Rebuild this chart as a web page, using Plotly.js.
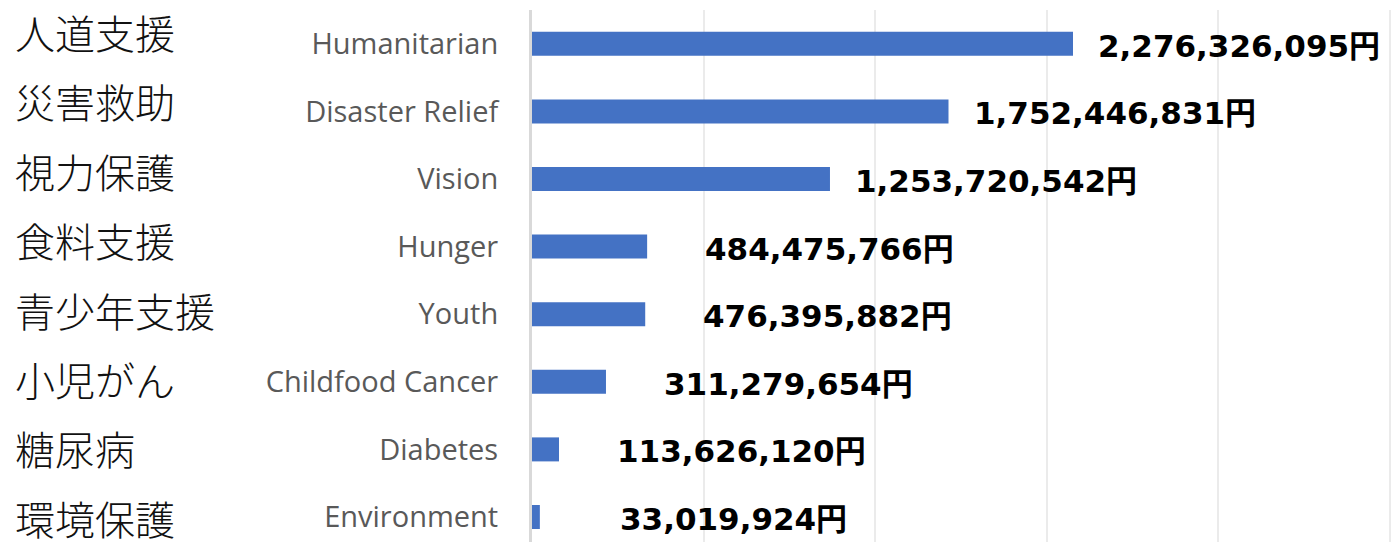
<!DOCTYPE html>
<html><head><meta charset="utf-8">
<script src="https://cdn.plot.ly/plotly-3.0.1.min.js"></script>
<style>html,body{margin:0;padding:0;background:#fff;}#chart{width:1392px;height:542px;}</style>
</head><body><div id="chart"></div>
<script>
const categories = ["Humanitarian","Disaster Relief","Vision","Hunger","Youth","Childfood Cancer","Diabetes","Environment"];
const jpLabels = ["人道支援","災害救助","視力保護","食料支援","青少年支援","小児がん","糖尿病","環境保護"];
const values = [2276326095,1752446831,1253720542,484475766,476395882,311279654,113626120,33019924];

const fmt = v => v.toLocaleString('en-US') + '円';

const W = 1392, H = 542, mL = 532, mT = 10;
const plotH = H - mT;
const pxPerUnit = 4.2076e6;
const xMax = (W - mL) * pxPerUnit;
const slot = 67.6;
const yBottom = -0.5 + plotH / slot;

const annotations = [];
values.forEach((v, i) => {
  annotations.push({
    x: v, y: categories[i], xref: 'x', yref: 'y',
    text: fmt(v), showarrow: false, xanchor: 'right', yanchor: 'middle',
    xshift: 309, yshift: -2,
    font: {family: 'DejaVu Sans, Noto Sans CJK JP, sans-serif', size: 31, color: '#000000', weight: 700}
  });
});
jpLabels.forEach((t, i) => {
  const ypx = 32 + i * 69.4;
  annotations.push({
    x: 0, xref: 'paper', xshift: -(mL - 13), xanchor: 'left',
    y: 1 - (ypx - mT) / plotH, yref: 'paper', yanchor: 'middle',
    height: 46, valign: 'middle',
    text: t, showarrow: false,
    font: {family: 'Noto Sans CJK JP, sans-serif', size: 40, color: '#111111', weight: 300}
  });
});

const trace = {
  type: 'bar', orientation: 'h',
  y: categories, x: values,
  marker: {color: '#4472C4'},
  width: 0.355,
  hoverinfo: 'none'
};

const layout = {
  width: W, height: H,
  margin: {l: mL, r: 0, t: mT, b: 0, pad: 0},
  paper_bgcolor: '#ffffff', plot_bgcolor: '#ffffff',
  showlegend: false,
  xaxis: {
    range: [0, xMax], dtick: 171.5 * pxPerUnit, tick0: 0,
    showgrid: true, gridcolor: '#ebebeb', gridwidth: 2,
    showticklabels: false, zeroline: false, showline: false, ticks: ''
  },
  yaxis: {
    type: 'category', range: [yBottom, -0.5],
    showgrid: false, zeroline: false,
    showline: true, linecolor: '#d9d9d9', linewidth: 3,
    ticks: '', ticklabelstandoff: 25,
    tickfont: {family: 'Open Sans, Noto Sans, sans-serif', size: 29, color: '#595959'}
  },
  annotations: annotations
};

Plotly.newPlot('chart', [trace], layout, {staticPlot: true});
</script></body></html>
